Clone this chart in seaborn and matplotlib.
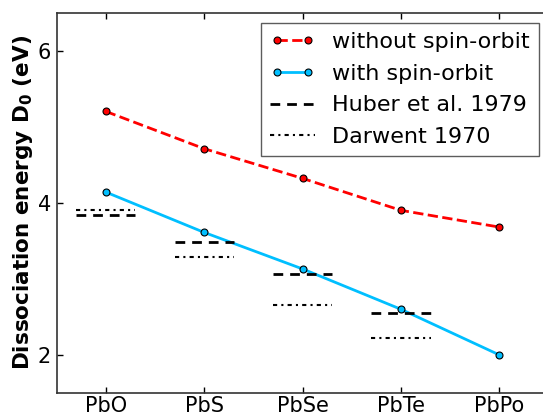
import matplotlib
matplotlib.use("Agg")
import matplotlib.pyplot as plt
import seaborn as sns
import pandas as pd
import numpy as np

molecules = ["PbO", "PbS", "PbSe", "PbTe", "PbPo"]
without_so = [5.20, 4.71, 4.32, 3.90, 3.68]
with_so = [4.14, 3.61, 3.13, 2.60, 2.00]
huber_mols = ["PbO", "PbS", "PbSe", "PbTe"]
huber_vals = [3.84, 3.49, 3.07, 2.55]
darwent_mols = ["PbO", "PbS", "PbSe", "PbTe"]
darwent_vals = [3.90, 3.29, 2.66, 2.22]
yticks = [2, 4, 6]

sns.set_theme(style="ticks")
plt.rcParams.update({
    "font.family": ["DejaVu Sans"],
    "text.color": "black",
    "axes.labelcolor": "black",
    "xtick.color": "black",
    "ytick.color": "black",
    "xtick.direction": "in",
    "ytick.direction": "in",
    "xtick.top": True,
    "ytick.right": True,
    "axes.edgecolor": "#333333",
    "axes.linewidth": 1.2,
})

df = pd.DataFrame({"molecule": molecules, "without": without_so, "with": with_so})

fig = plt.figure(figsize=(5.43, 4.17), dpi=100)
ax = fig.add_axes([56.6 / 543, 1 - 393 / 417, (548.6 - 56.6) / 543, (393 - 12.5) / 417])

sns.lineplot(data=df, x="molecule", y="without", ax=ax, color="red", linestyle="--",
             linewidth=2, marker="o", markersize=5, markerfacecolor="red",
             markeredgecolor="black", markeredgewidth=0.8, label="without spin-orbit")
sns.lineplot(data=df, x="molecule", y="with", ax=ax, color="#00BFFF", linestyle="-",
             linewidth=2, marker="o", markersize=5, markerfacecolor="#00BFFF",
             markeredgecolor="black", markeredgewidth=0.8, label="with spin-orbit")

pos = {m: i for i, m in enumerate(molecules)}
hx = np.array([pos[m] for m in huber_mols])
dx = np.array([pos[m] for m in darwent_mols])
ax.hlines(huber_vals, hx - 0.3, hx + 0.3, colors="black", linestyles=(0, (3.5, 2.5)),
          linewidth=2, label="Huber et al. 1979")
ax.hlines(darwent_vals, dx - 0.3, dx + 0.3, colors="black", linestyles=(0, (2, 2, 1, 2)),
          linewidth=1.5, label="Darwent 1970")

ax.set_xlim(-0.5, 4.5)
ax.set_ylim(1.5, 6.5)
ax.set_yticks(yticks)
ax.set_yticklabels([str(t) for t in yticks])
ax.set_xlabel("")
ax.set_ylabel(r"Dissociation energy $\mathbf{D_0}$ (eV)", fontsize=15.5, fontweight="bold",
              labelpad=2)
ax.tick_params(axis="both", labelsize=15, length=4, width=1, pad=4)
ax.tick_params(axis="x", pad=2)
for s in ax.spines.values():
    s.set_visible(True)

leg = ax.legend(loc="upper right", bbox_to_anchor=(539 / 543, 1 - 23 / 417),
                bbox_transform=fig.transFigure, fontsize=16, frameon=True, fancybox=False,
                edgecolor="#333333", handlelength=2.0, handletextpad=0.8, numpoints=2,
                borderpad=0.4, labelspacing=0.53, borderaxespad=0)
leg.get_frame().set_linewidth(1.0)

fig.savefig("out.png", dpi=100)
